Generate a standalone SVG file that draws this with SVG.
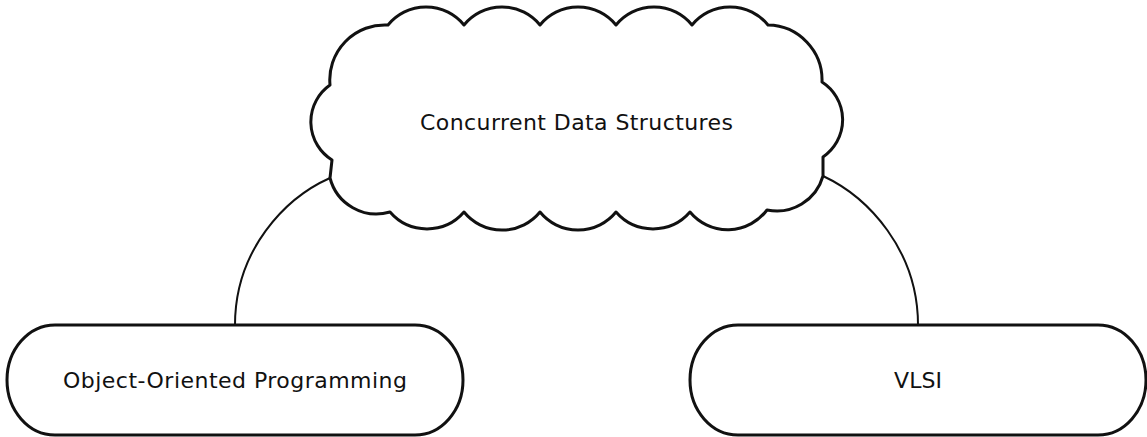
<svg xmlns="http://www.w3.org/2000/svg" width="1147" height="437" viewBox="0 0 1147 437">
<style>
.shape{fill:#fff;stroke:#111;stroke-width:3;stroke-linejoin:round}
.conn{fill:none;stroke:#111;stroke-width:2}
.lbl{font-family:"DejaVu Sans","Liberation Sans",sans-serif;font-size:22px;fill:#111;text-anchor:middle}
</style>
<rect width="1147" height="437" fill="#fff"/>
<g id="connectors">
<path class="conn" d="M330,178 C285,198 235,250 235,325"/>
<path class="conn" d="M823,176 C868,197 918,250 918,325"/>
</g>
<g id="node-cds">
<path class="shape" d="M388,25 A49,49 0 0 1 464,25 A49,49 0 0 1 540,25 A49,49 0 0 1 616,25 A49,49 0 0 1 692,25 A49,49 0 0 1 768,25 A55,55 0 0 1 822,82 A45,45 0 0 1 823,157 L823,176 A48,48 0 0 1 767,210 A49,49 0 0 1 690,212 A49,49 0 0 1 616,212 A49,49 0 0 1 540,212 A49,49 0 0 1 464,212 A49,49 0 0 1 390,212 A48,48 0 0 1 330,178 L332,160 A45,45 0 0 1 330,85 A55,55 0 0 1 388,25 Z"/>
<text class="lbl" x="576.5" y="130" textLength="313" lengthAdjust="spacing">Concurrent Data Structures</text>
</g>
<g id="node-oop">
<path class="shape" d="M55,325 L415,325 A48,55 0 0 1 415,435 L55,435 A48,55 0 0 1 55,325 Z"/>
<text class="lbl" x="235" y="388" textLength="344" lengthAdjust="spacing">Object-Oriented Programming</text>
</g>
<g id="node-vlsi">
<path class="shape" d="M738,325 L1098,325 A48,55 0 0 1 1098,435 L738,435 A48,55 0 0 1 738,325 Z"/>
<text class="lbl" x="918" y="388">VLSI</text>
</g>
</svg>
